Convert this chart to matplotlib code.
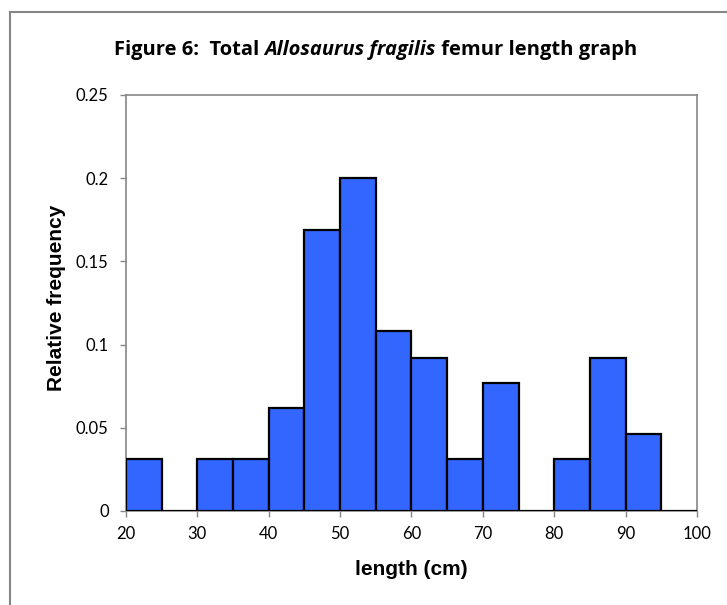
import matplotlib
matplotlib.use("Agg")
import matplotlib.pyplot as plt
from matplotlib.patches import Rectangle

# bin edges (cm) and relative frequency per 5 cm bin
bin_left = [20, 25, 30, 35, 40, 45, 50, 55, 60, 65, 70, 75, 80, 85, 90, 95]
rel_freq = [0.031, 0.0, 0.031, 0.031, 0.062, 0.169, 0.2, 0.108,
            0.092, 0.031, 0.077, 0.0, 0.031, 0.092, 0.046, 0.0]
bin_width = 5
x_ticks = [20, 30, 40, 50, 60, 70, 80, 90, 100]
y_ticks = [0, 0.05, 0.1, 0.15, 0.2, 0.25]
y_tick_labels = ["0", "0.05", "0.1", "0.15", "0.2", "0.25"]
title_parts = [("Figure 6:  Total ", "normal"), ("Allosaurus fragilis", "italic"),
               (" femur length graph", "normal")]

tick_font = "Lato"
title_font = "Open Sans"
label_font = "Liberation Sans"
frame_grey = "#868686"

fig = plt.figure(figsize=(7.27, 6.05), dpi=100)
ax = fig.add_axes([0.1733, 0.1554, 0.7854, 0.6876])

ax.bar(bin_left, rel_freq, width=bin_width, align="edge",
       color="#3366FF", edgecolor="black", linewidth=1.6, zorder=3)

ax.set_xlim(20, 100)
ax.set_ylim(0, 0.25)
ax.set_xticks(x_ticks)
ax.set_yticks(y_ticks)
ax.set_yticklabels(y_tick_labels)
for lab in ax.get_xticklabels() + ax.get_yticklabels():
    lab.set_fontfamily(tick_font)
    lab.set_fontsize(12)
ax.tick_params(direction="out", length=4.5, width=1, color=frame_grey)
ax.tick_params(axis="y", pad=8)
ax.tick_params(axis="x", pad=6)
for sp in ax.spines.values():
    sp.set_color(frame_grey)
    sp.set_linewidth(1.2)

ax.set_xlabel("length (cm)", fontfamily=label_font, fontweight="bold",
              fontsize=15, va="baseline")
ax.xaxis.set_label_coords(0.5, -0.1538)
ax.set_ylabel("Relative frequency", fontfamily=label_font, fontweight="bold",
              fontsize=15, va="center")
ax.yaxis.set_label_coords(-0.1217, 0.513)

# title with an italic species name: lay pieces side by side,
# sized so the whole line spans about 525 px
fig.canvas.draw()
renderer = fig.canvas.get_renderer()
texts = []
for s, style in title_parts:
    t = fig.text(0, 0.909, s, fontfamily=title_font, fontweight="bold",
                 fontstyle=style, fontsize=10, va="baseline", ha="left")
    texts.append(t)
base_w = sum(t.get_window_extent(renderer).width for t in texts)
size = 10 * 525 / base_w
for t in texts:
    t.set_fontsize(size)
widths = [t.get_window_extent(renderer).width for t in texts]
x0 = 375.5 - sum(widths) / 2
for t, w in zip(texts, widths):
    t.set_x(x0 / fig.bbox.width)
    x0 += w

# outer chart frame (only left and top edges fall inside the crop)
fig.patches.append(Rectangle((10 / 727, -0.05), 1.2, (605 - 12) / 605 + 0.05,
                             transform=fig.transFigure, fill=False,
                             edgecolor=frame_grey, linewidth=1.5))

fig.savefig("out.png", dpi=100)
